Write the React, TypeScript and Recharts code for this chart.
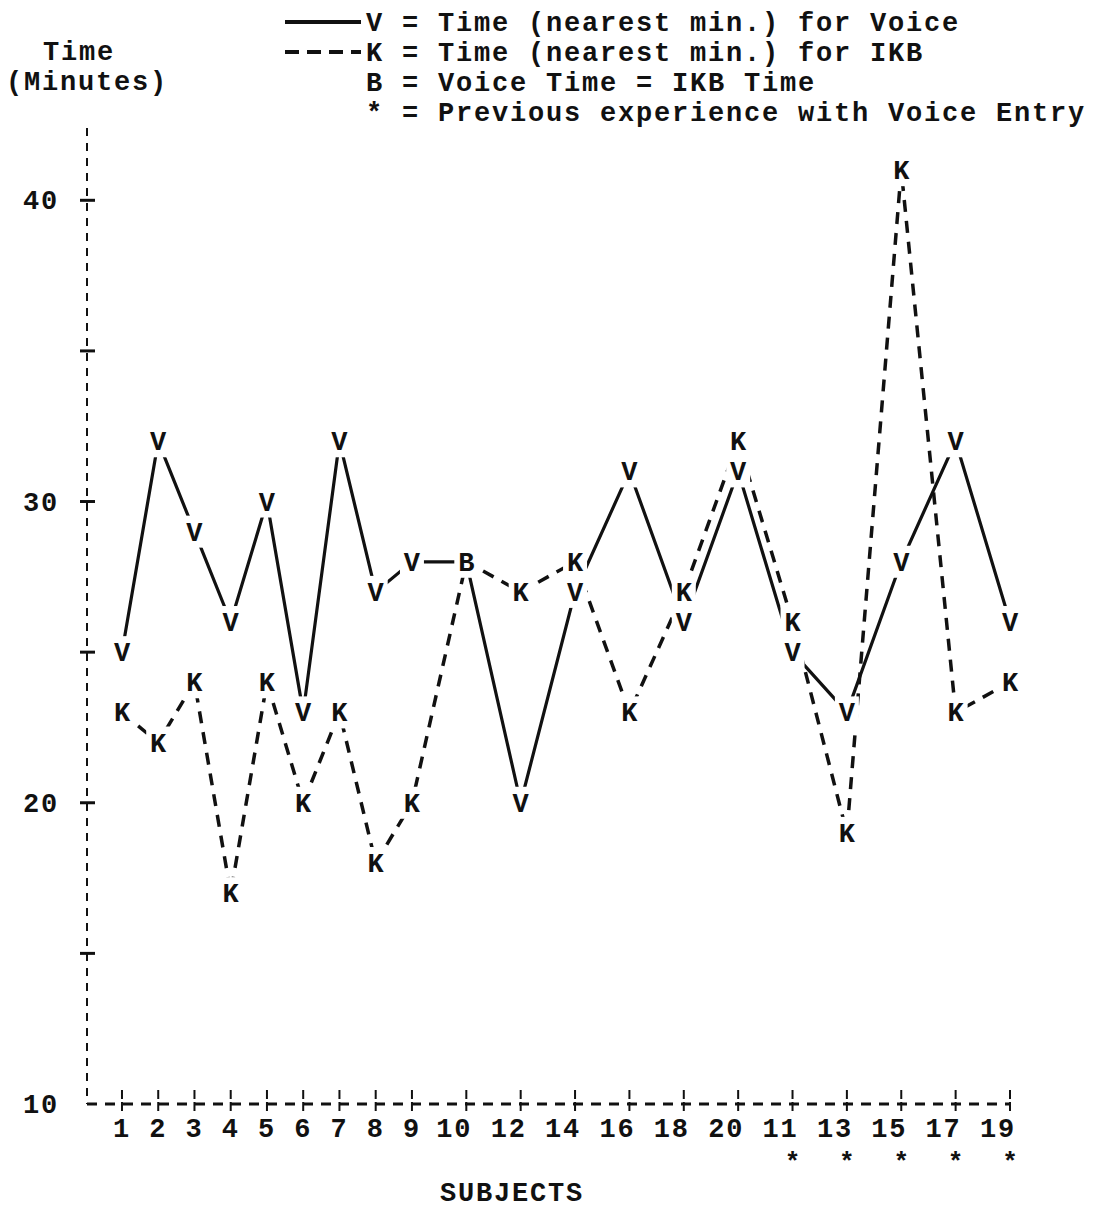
import React from 'react';
import { LineChart, Line, XAxis, YAxis } from 'recharts';

// subjects in the order they were plotted (odd numbers had prior voice entry experience)
const subjects = ['1', '2', '3', '4', '5', '6', '7', '8', '9', '10', '12', '14', '16', '18', '20', '11', '13', '15', '17', '19'];
const voiceTimes = [25, 32, 29, 26, 30, 23, 32, 27, 28, 28, 20, 27, 31, 26, 31, 25, 23, 28, 32, 26];
const ikbTimes = [23, 22, 24, 17, 24, 20, 23, 18, 20, 28, 27, 28, 23, 27, 32, 26, 19, 41, 23, 24];
const experienced = ['11', '13', '15', '17', '19'];
const minuteTicks = [10, 15, 20, 25, 30, 35, 40];
const labelledMinutes = [10, 20, 30, 40];

const legendRows = [
  { mark: 'solid', text: 'V = Time (nearest min.) for Voice' },
  { mark: 'dashed', text: 'K = Time (nearest min.) for IKB' },
  { mark: '', text: 'B = Voice Time = IKB Time' },
  { mark: '', text: '* = Previous experience with Voice Entry' },
];

// typewriter layout: each subject column is as wide as its label plus one space
let col = 0;
const data = subjects.map((s, i) => {
  if (i > 0) col += s.length + 1;
  return { subject: s, col, voice: voiceTimes[i], ikb: ikbTimes[i] };
});

const FONT = '"Liberation Mono", "DejaVu Sans Mono", monospace';
const txt = { fontFamily: FONT, fontSize: 27, fontWeight: 700, letterSpacing: 1.8, fill: '#111' } as const;

const SubjectTick = ({ x, y, payload }: any) => {
  const row = data.find((d) => d.col === payload.value);
  const label = row ? row.subject : '';
  const wide = label.length > 1;
  return (
    <g>
      <line x1={x} x2={x} y1={y - 14} y2={y + 8} stroke="#111" strokeWidth={2} strokeDasharray="9 3" />
      <text x={wide ? x + 6 : x} y={y + 33} textAnchor={wide ? 'end' : 'middle'} style={txt}>
        {label}
      </text>
      {experienced.includes(label) && (
        <text x={x} y={y + 66} textAnchor="middle" style={{ ...txt, fontSize: 26, letterSpacing: 0 }}>
          *
        </text>
      )}
    </g>
  );
};

const MinuteTick = ({ x, y, payload }: any) => (
  <g>
    {payload.value !== 10 && <line x1={x - 7} x2={x + 8} y1={y} y2={y} stroke="#111" strokeWidth={3} />}
    {labelledMinutes.includes(payload.value) && (
      <text x={x - 28} y={y} dy={9} textAnchor="end" style={txt}>
        {payload.value}
      </text>
    )}
  </g>
);

const marker = (series: 'voice' | 'ikb') => (p: any) => {
  const { cx, cy, index, payload } = p;
  const same = payload.voice === payload.ikb;
  if (series === 'ikb' && same) return <g key={`m-${series}-${index}`} />;
  const letter = series === 'voice' ? (same ? 'B' : 'V') : 'K';
  return (
    <g key={`m-${series}-${index}`}>
      <rect x={cx - 12} y={cy - 16} width={24} height={32} fill="#fff" />
      <text x={cx} y={cy} dy={9} textAnchor="middle" style={{ ...txt, letterSpacing: 0 }}>
        {letter}
      </text>
    </g>
  );
};

const App: React.FC = () => {
  return (
    <div style={{ position: 'absolute', left: 0, top: 0, width: 1096, height: 1210, background: '#fff' }}>
      <LineChart width={1096} height={1210} data={data} margin={{ top: 128, right: 86, bottom: 6, left: 7 }}>
        <XAxis
          type="number"
          dataKey="col"
          domain={[-1.93, 49]}
          ticks={data.map((d) => d.col)}
          interval={0}
          height={100}
          tickSize={0}
          tickMargin={0}
          tickLine={false}
          axisLine={{ stroke: '#111', strokeWidth: 3, strokeDasharray: '10 8' }}
          tick={<SubjectTick />}
        />
        <YAxis
          domain={[10, 42.4]}
          ticks={minuteTicks}
          interval={0}
          width={80}
          tickSize={0}
          tickMargin={0}
          tickLine={false}
          axisLine={{ stroke: '#111', strokeWidth: 2, strokeDasharray: '8 7' }}
          tick={<MinuteTick />}
        />
        <Line dataKey="voice" stroke="#111" strokeWidth={3.2} dot={false} isAnimationActive={false} />
        <Line dataKey="ikb" stroke="#111" strokeWidth={3.5} strokeDasharray="12 9" dot={false} isAnimationActive={false} />
        <Line dataKey="ikb" stroke="none" dot={marker('ikb')} activeDot={false} isAnimationActive={false} />
        <Line dataKey="voice" stroke="none" dot={marker('voice')} activeDot={false} isAnimationActive={false} />
      </LineChart>
      <svg width={1096} height={1210} style={{ position: 'absolute', left: 0, top: 0, pointerEvents: 'none' }}>
        <text x={43} y={60} style={txt}>Time</text>
        <text x={6} y={90} style={txt}>(Minutes)</text>
        {legendRows.map((r, i) => (
          <g key={r.text}>
            {r.mark && (
              <line
                x1={285}
                x2={361}
                y1={22 + i * 30}
                y2={22 + i * 30}
                stroke="#111"
                strokeWidth={4}
                strokeDasharray={r.mark === 'dashed' ? '14 8' : undefined}
              />
            )}
            <text x={366} y={31 + i * 30} style={txt}>{r.text}</text>
          </g>
        ))}
        <text x={512} y={1201} textAnchor="middle" style={txt}>SUBJECTS</text>
      </svg>
    </div>
  );
};

export default App;
